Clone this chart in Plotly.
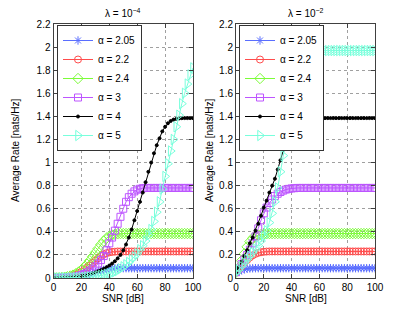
import plotly.graph_objects as go

snr = list(range(0, 101, 2))
alpha_labels = ["α = 2.05", "α = 2.2", "α = 2.4", "α = 3", "α = 4", "α = 5"]

# lambda = 1e-4
a205_l = [0, 0, 0.001, 0.001, 0.002, 0.003, 0.005, 0.007, 0.01, 0.013, 0.017, 0.022, 0.028, 0.035, 0.042, 0.05, 0.057, 0.064, 0.07, 0.075, 0.079, 0.082, 0.084, 0.085,
          0.085, 0.085, 0.085, 0.085, 0.085, 0.085, 0.085, 0.085, 0.085, 0.085, 0.085, 0.085, 0.085, 0.085, 0.085, 0.085, 0.085, 0.085, 0.085, 0.085, 0.085, 0.085, 0.085, 0.085, 0.085, 0.085, 0.085]
a22_l = [0, 0.001, 0.002, 0.004, 0.007, 0.01, 0.015, 0.022, 0.03, 0.042, 0.055, 0.07, 0.09, 0.11, 0.13, 0.15, 0.17, 0.19, 0.205, 0.215, 0.222, 0.226, 0.228, 0.23,
         0.23, 0.23, 0.23, 0.23, 0.23, 0.23, 0.23, 0.23, 0.23, 0.23, 0.23, 0.23, 0.23, 0.23, 0.23, 0.23, 0.23, 0.23, 0.23, 0.23, 0.23, 0.23, 0.23, 0.23, 0.23, 0.23, 0.23]
a24_l = [0, 0.001, 0.002, 0.004, 0.007, 0.011, 0.017, 0.025, 0.037, 0.052, 0.07, 0.092, 0.12, 0.15, 0.185, 0.22, 0.255, 0.29, 0.32, 0.345, 0.36, 0.372, 0.379, 0.383, 0.385,
         0.385, 0.385, 0.385, 0.385, 0.385, 0.385, 0.385, 0.385, 0.385, 0.385, 0.385, 0.385, 0.385, 0.385, 0.385, 0.385, 0.385, 0.385, 0.385, 0.385, 0.385, 0.385, 0.385, 0.385, 0.385, 0.385]
a3_l = [0, 0.001, 0.001, 0.002, 0.003, 0.004, 0.006, 0.009, 0.013, 0.018, 0.025, 0.035, 0.048, 0.063, 0.08, 0.1, 0.125, 0.155, 0.19, 0.24, 0.3, 0.35, 0.41, 0.47, 0.53,
        0.6, 0.66, 0.7, 0.73, 0.75, 0.765, 0.773, 0.778, 0.78, 0.78, 0.78, 0.78, 0.78, 0.78, 0.78, 0.78, 0.78, 0.78, 0.78, 0.78, 0.78, 0.78, 0.78, 0.78, 0.78, 0.78]
a4_l = [0, 0, 0.001, 0.001, 0.002, 0.003, 0.004, 0.006, 0.008, 0.011, 0.015, 0.02, 0.025, 0.032, 0.04, 0.048, 0.058, 0.068, 0.08, 0.093, 0.108, 0.125, 0.145, 0.17, 0.2,
        0.24, 0.29, 0.35, 0.42, 0.5, 0.58, 0.66, 0.74, 0.83, 0.92, 1.0, 1.08, 1.15, 1.21, 1.27, 1.31, 1.34, 1.36, 1.372, 1.378, 1.382, 1.384, 1.385, 1.385, 1.385, 1.385]
a5_l = [0, 0, 0, 0.001, 0.001, 0.001, 0.002, 0.002, 0.003, 0.004, 0.005, 0.006, 0.008, 0.01, 0.012, 0.015, 0.018, 0.022, 0.027, 0.032, 0.038, 0.045, 0.054, 0.065, 0.08,
        0.097, 0.115, 0.135, 0.16, 0.185, 0.21, 0.245, 0.28, 0.32, 0.37, 0.42, 0.49, 0.57, 0.66, 0.77, 0.88, 0.99, 1.1, 1.2, 1.31, 1.41, 1.51, 1.6, 1.68, 1.76, 1.82]

# lambda = 1e-2
a205_r = [0.045, 0.058, 0.068, 0.075, 0.08, 0.083, 0.084, 0.085, 0.085, 0.085, 0.085, 0.085, 0.085, 0.085, 0.085, 0.085, 0.085, 0.085, 0.085, 0.085, 0.085, 0.085, 0.085, 0.085, 0.085,
          0.085, 0.085, 0.085, 0.085, 0.085, 0.085, 0.085, 0.085, 0.085, 0.085, 0.085, 0.085, 0.085, 0.085, 0.085, 0.085, 0.085, 0.085, 0.085, 0.085, 0.085, 0.085, 0.085, 0.085, 0.085, 0.085]
a22_r = [0.05, 0.075, 0.1, 0.135, 0.155, 0.178, 0.196, 0.209, 0.218, 0.223, 0.227, 0.229, 0.23, 0.23, 0.23, 0.23, 0.23, 0.23, 0.23, 0.23, 0.23, 0.23, 0.23, 0.23, 0.23,
         0.23, 0.23, 0.23, 0.23, 0.23, 0.23, 0.23, 0.23, 0.23, 0.23, 0.23, 0.23, 0.23, 0.23, 0.23, 0.23, 0.23, 0.23, 0.23, 0.23, 0.23, 0.23, 0.23, 0.23, 0.23, 0.23]
a24_r = [0.05, 0.09, 0.15, 0.21, 0.27, 0.315, 0.345, 0.36, 0.37, 0.376, 0.38, 0.383, 0.385, 0.385, 0.385, 0.385, 0.385, 0.385, 0.385, 0.385, 0.385, 0.385, 0.385, 0.385, 0.385,
         0.385, 0.385, 0.385, 0.385, 0.385, 0.385, 0.385, 0.385, 0.385, 0.385, 0.385, 0.385, 0.385, 0.385, 0.385, 0.385, 0.385, 0.385, 0.385, 0.385, 0.385, 0.385, 0.385, 0.385, 0.385, 0.385]
a3_r = [0.05, 0.08, 0.12, 0.16, 0.2, 0.245, 0.3, 0.36, 0.43, 0.5, 0.56, 0.61, 0.65, 0.68, 0.71, 0.73, 0.745, 0.757, 0.766, 0.772, 0.776, 0.778, 0.78, 0.78, 0.78,
        0.78, 0.78, 0.78, 0.78, 0.78, 0.78, 0.78, 0.78, 0.78, 0.78, 0.78, 0.78, 0.78, 0.78, 0.78, 0.78, 0.78, 0.78, 0.78, 0.78, 0.78, 0.78, 0.78, 0.78, 0.78, 0.78]
a4_r = [0.045, 0.09, 0.14, 0.19, 0.24, 0.3, 0.35, 0.41, 0.47, 0.54, 0.61, 0.67, 0.74, 0.8, 0.86, 0.94, 1.02, 1.11, 1.2, 1.27, 1.32, 1.35, 1.368, 1.376, 1.38,
        1.383, 1.385, 1.385, 1.385, 1.385, 1.385, 1.385, 1.385, 1.385, 1.385, 1.385, 1.385, 1.385, 1.385, 1.385, 1.385, 1.385, 1.385, 1.385, 1.385, 1.385, 1.385, 1.385, 1.385, 1.385, 1.385]
a5_r = [0.045, 0.07, 0.1, 0.13, 0.16, 0.19, 0.22, 0.25, 0.28, 0.32, 0.36, 0.41, 0.48, 0.56, 0.66, 0.78, 0.92, 1.06, 1.21, 1.37, 1.5, 1.62, 1.72, 1.8, 1.86,
        1.9, 1.93, 1.945, 1.955, 1.962, 1.967, 1.97, 1.97, 1.97, 1.97, 1.97, 1.97, 1.97, 1.97, 1.97, 1.97, 1.97, 1.97, 1.97, 1.97, 1.97, 1.97, 1.97, 1.97, 1.97, 1.97]

left_series = [a205_l, a22_l, a24_l, a3_l, a4_l, a5_l]
right_series = [a205_r, a22_r, a24_r, a3_r, a4_r, a5_r]

colors = ["#5a6eff", "#ff4c4c", "#7cfc38", "#bd55ff", "#000000", "#78ffdc"]
symbols = ["asterisk-open", "circle-open", "diamond-open", "square-open", "circle", "triangle-right-open"]
msizes = [7, 7, 8, 7, 3, 9]

FONT = "Liberation Sans, Arial, sans-serif"
fig = go.Figure()

for i in range(6):
    fig.add_trace(go.Scatter(
        x=snr, y=left_series[i], name=alpha_labels[i], mode="lines+markers",
        line=dict(color=colors[i], width=1),
        marker=dict(symbol=symbols[i], size=msizes[i], color=colors[i], line=dict(color=colors[i], width=1)),
        xaxis="x", yaxis="y", legend="legend"))
for i in range(6):
    fig.add_trace(go.Scatter(
        x=snr, y=right_series[i], name=alpha_labels[i], mode="lines+markers",
        line=dict(color=colors[i], width=1),
        marker=dict(symbol=symbols[i], size=msizes[i], color=colors[i], line=dict(color=colors[i], width=1)),
        xaxis="x2", yaxis="y2", legend="legend2"))

# The page body adds an 8px margin, so the figure is 16px smaller and
# page positions are converted to figure positions.
OFF = 8
W, H = 415 - 2 * OFF, 313 - 2 * OFF
def px(xp):
    return (xp - OFF) / W
def py(yp):
    return 1 - (yp - OFF) / H

axis_common = dict(
    showline=True, linecolor="#404040", linewidth=1, mirror="ticks",
    ticks="inside", ticklen=4, tickcolor="#404040",
    showgrid=True, gridcolor="#a0a0a0", griddash="dot", gridwidth=1,
    zeroline=False, automargin=False, tickfont=dict(family=FONT, size=10, color="#000"),
)

xdom_l = [px(53.5), px(193)]
xdom_r = [px(236), px(375)]
ydom = [py(278), py(24)]

yticks = [0, 0.2, 0.4, 0.6, 0.8, 1, 1.2, 1.4, 1.6, 1.8, 2, 2.2]
xticks = [0, 20, 40, 60, 80, 100]

fig.update_layout(
    width=W, height=H,
    margin=dict(l=0, r=0, t=0, b=0, autoexpand=False),
    paper_bgcolor="white", plot_bgcolor="white",
    font=dict(family=FONT, size=10, color="#000"),
    xaxis=dict(domain=xdom_l, range=[0, 100], tickvals=xticks, anchor="y", **axis_common),
    yaxis=dict(domain=ydom, range=[0, 2.2], tickvals=yticks, anchor="x", **axis_common),
    xaxis2=dict(domain=xdom_r, range=[0, 100], tickvals=xticks, anchor="y2", **axis_common),
    yaxis2=dict(domain=ydom, range=[0, 2.2], tickvals=yticks, anchor="x2", **axis_common),
    legend=dict(x=px(57), y=py(25), xanchor="left", yanchor="top", bgcolor="white",
                bordercolor="#333", borderwidth=1, font=dict(family=FONT, size=10), tracegroupgap=0),
    legend2=dict(x=px(239), y=py(25), xanchor="left", yanchor="top", bgcolor="white",
                 bordercolor="#333", borderwidth=1, font=dict(family=FONT, size=10), tracegroupgap=0),
    showlegend=True,
)

def ann(text, x, y, angle=0):
    return dict(text=text, x=x, y=y, xref="paper", yref="paper", showarrow=False,
                xanchor="center", yanchor="middle", textangle=angle, font=dict(family=FONT, size=10))

annotations = [
    ann("λ = 10<sup>−4</sup>", (xdom_l[0] + xdom_l[1]) / 2, py(13)),
    ann("λ = 10<sup>−2</sup>", (xdom_r[0] + xdom_r[1]) / 2, py(13)),
    ann("SNR [dB]", (xdom_l[0] + xdom_l[1]) / 2, py(298)),
    ann("SNR [dB]", (xdom_r[0] + xdom_r[1]) / 2, py(298)),
    ann("Average Rate [nats/Hz]", px(16), (ydom[0] + ydom[1]) / 2, -90),
    ann("Average Rate [nats/Hz]", px(210), (ydom[0] + ydom[1]) / 2, -90),
]
fig.update_layout(annotations=annotations)

fig.write_html("out.html")
